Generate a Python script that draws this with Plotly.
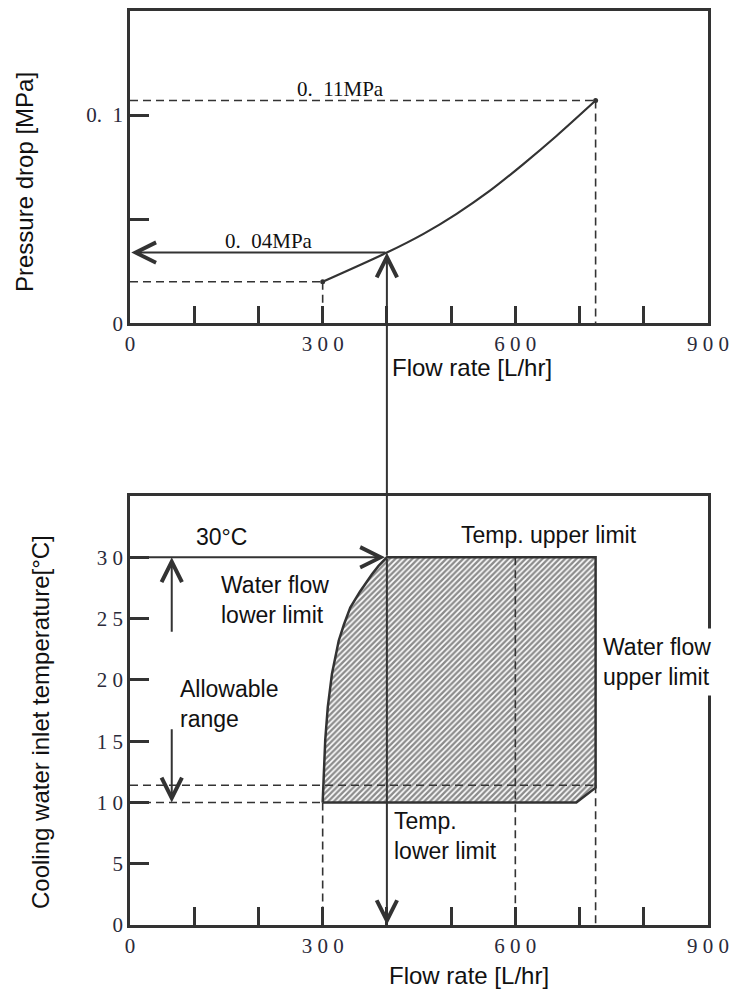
import plotly.graph_objects as go

# ---------------- data ----------------
# Pressure-drop curve (top chart)
flow_curve = [300, 400, 457, 508, 560, 612, 664, 725]
dp_curve = [0.020, 0.034, 0.043, 0.0525, 0.0636, 0.0764, 0.090, 0.107]

# Allowable operating region (bottom chart), outline
region_flow = [300, 301.5, 304, 308, 314.5, 325, 333, 343, 358, 376.5, 387, 400, 725, 725, 695, 300]
region_temp = [10, 12.4, 15.1, 17.8, 20.5, 23.2, 24.5, 25.9, 27.2, 28.6, 29.3, 30, 30, 11.2, 10, 10]

flow_min, flow_op, flow_mid, flow_max = 300, 400, 600, 725
dp_min, dp_op, dp_max = 0.020, 0.034, 0.107
t_low, t_low2, t_up = 10, 11.4, 30
allow_x = 65
gap_top, gap_bot = 23.8, 16.1

x_tickvals = [0, 100, 200, 300, 400, 500, 600, 700, 800, 900]
x_ticktext = ["0", "", "", "3 0 0", "", "", "6 0 0", "", "", "9 0 0"]
y1_tickvals = [0, 0.05, 0.1]
y1_ticktext = ["0", "", "0.  1"]
y2_tickvals = [0, 5, 10, 15, 20, 25, 30]
y2_ticktext = ["0", "5", "1 0", "1 5", "2 0", "2 5", "3 0"]

# ---------------- layout geometry ----------------
W, H = 733, 994
ML, MT = 130, 11
PW, PH = 578, 914
MR, MB = W - ML - PW, H - MT - PH
REF_TOP, REF_T1_BOT, REF_B_TOP, REF_BOT = 10, 323, 496, 925.7
d_top0 = (REF_BOT - REF_T1_BOT) / (REF_BOT - REF_TOP)
d_bot1 = (REF_BOT - REF_B_TOP) / (REF_BOT - REF_TOP)
Y1MAX, Y2MAX = 0.15, 35


def py_top(v):
    return MT + (1 - (d_top0 + (1 - d_top0) * v / Y1MAX)) * PH


def py_bot(v):
    return MT + (1 - d_bot1 * v / Y2MAX) * PH


def px2paper_x(px):
    return (px - ML) / PW


def px2paper_y(py):
    return 1 - (py - MT) / PH


LC = "#333333"
SANS = "Liberation Sans, Arial, sans-serif"
SERIF = "Liberation Serif, Times New Roman, serif"
DASH = "8px,5px"

fig = go.Figure()

# hatched region
fig.add_trace(go.Scatter(
    x=region_flow, y=region_temp, xaxis="x2", yaxis="y2",
    mode="lines", fill="toself", fillcolor="rgba(0,0,0,0)",
    fillpattern=dict(shape="/", size=4, solidity=0.6, fgcolor="#1a1a1a", bgcolor="white"),
    line=dict(color=LC, width=2.5), hoverinfo="skip"))

# top chart curve
fig.add_trace(go.Scatter(x=flow_curve, y=dp_curve, mode="lines",
                         line=dict(color=LC, width=2.2, shape="spline", smoothing=0.8),
                         xaxis="x", yaxis="y"))
fig.add_trace(go.Scatter(x=[flow_curve[0], flow_curve[-1]], y=[dp_curve[0], dp_curve[-1]],
                         mode="markers", marker=dict(color=LC, size=5), xaxis="x", yaxis="y"))


def dashed(xs, ys, xa, ya):
    fig.add_trace(go.Scatter(x=xs, y=ys, mode="lines", xaxis=xa, yaxis=ya,
                             line=dict(color=LC, width=1.6, dash=DASH), hoverinfo="skip"))


# dashed guide lines, top chart
dashed([0, flow_max], [dp_max, dp_max], "x", "y")
dashed([flow_max, flow_max], [dp_max, 0], "x", "y")
dashed([0, flow_min], [dp_min, dp_min], "x", "y")
dashed([flow_min, flow_min], [dp_min, 0], "x", "y")

# dashed guide lines, bottom chart
dashed([0, flow_min], [t_low, t_low], "x2", "y2")
dashed([0, flow_max], [t_low2, t_low2], "x2", "y2")
dashed([flow_min, flow_min], [t_low, 0], "x2", "y2")
dashed([flow_mid, flow_mid], [t_up, 0], "x2", "y2")
dashed([flow_max, flow_max], [t_low2, 0], "x2", "y2")

axis_common = dict(showline=True, mirror=True, linecolor=LC, linewidth=2.5, automargin=False,
                   ticks="inside", tickwidth=2.5, tickcolor=LC, showgrid=False, zeroline=False,
                   tickfont=dict(family=SERIF, size=21, color="#2a2a3a"))

fig.update_layout(
    width=W, height=H, margin=dict(l=ML, r=MR, t=MT, b=MB, autoexpand=False),
    paper_bgcolor="white", plot_bgcolor="white", showlegend=False,
    xaxis=dict(domain=[0, 1], range=[0, 900], anchor="y", tickmode="array",
               tickvals=x_tickvals, ticktext=x_ticktext, ticklen=18, **axis_common),
    yaxis=dict(domain=[d_top0, 1], range=[0, Y1MAX], anchor="x", tickmode="array",
               tickvals=y1_tickvals, ticktext=y1_ticktext, ticklen=19, **axis_common),
    xaxis2=dict(domain=[0, 1], range=[0, 900], anchor="y2", tickmode="array",
                tickvals=x_tickvals, ticktext=x_ticktext, ticklen=18, **axis_common),
    yaxis2=dict(domain=[0, d_bot1], range=[0, Y2MAX], anchor="x2", tickmode="array",
                tickvals=y2_tickvals, ticktext=y2_ticktext, ticklen=19, **axis_common),
)

ann = []


def arrow(x, y, ax, ay, xr, yr, pixel=False):
    d = dict(x=x, y=y, xref=xr, yref=yr, text="", showarrow=True,
             arrowhead=5, arrowsize=2, arrowwidth=2, arrowcolor=LC)
    if pixel:
        d.update(ax=ax, ay=ay)
    else:
        d.update(ax=ax, ay=ay, axref=xr, ayref=yr)
    ann.append(d)


# top chart: arrow to y axis (0.04 MPa)
arrow(2, dp_op, flow_op, dp_op, "x", "y")
# vertical arrow from 30 degC level up to curve (crosses gap between charts)
arrow(flow_op, dp_op, 0, py_bot(t_up) - py_top(dp_op), "x", "y", pixel=True)
# bottom: vertical arrow down to 0
arrow(flow_op, 0, flow_op, t_up, "x2", "y2")
# 30 degC arrow
arrow(flow_op - 3, t_up, 0, t_up, "x2", "y2")
# allowable range double arrow (two pieces around label)
arrow(allow_x, t_up, allow_x, gap_top, "x2", "y2")
arrow(allow_x, t_low, allow_x, gap_bot, "x2", "y2")


def label(text, x, y, xr, yr, size=23, family=SANS, xanchor="left", bg=None, align="left", pad=1):
    d = dict(x=x, y=y, xref=xr, yref=yr, text=text, showarrow=False, xanchor=xanchor,
             yanchor="middle", align=align, font=dict(family=family, size=size, color="#111111"),
             borderpad=pad)
    if bg:
        d["bgcolor"] = bg
    ann.append(d)


# top chart serif labels
label("0.  04MPa", 217, 0.0397, "x", "y", size=21, family=SERIF, xanchor="center")
label("0.  11MPa", 327, 0.1124, "x", "y", size=21, family=SERIF, xanchor="center")

# bottom chart labels
label("30°C", 99, 31.7, "x2", "y2")
label("Temp. upper limit", 652, 31.8, "x2", "y2", xanchor="center", align="center")
label("Water flow<br>lower limit", 138, 26.5, "x2", "y2")
label("Allowable<br>range", 75, 18.0, "x2", "y2")
label("Temp.<br>lower limit", 408, 7.3, "x2", "y2")
label("Water flow<br>upper limit", 727, 21.5, "x2", "y2", bg="white", pad=5)


def title(text, px, py, angle=0):
    ann.append(dict(x=px2paper_x(px), y=px2paper_y(py), xref="paper", yref="paper",
                    xanchor="center", yanchor="middle", textangle=angle,
                    text=text, showarrow=False, font=dict(family=SANS, size=24, color="#111111")))


title("Flow rate [L/hr]", 472, 367)
title("Flow rate [L/hr]", 469, 975)
title("Pressure drop [MPa]", 24, 182, -90)
title("Cooling water inlet temperature[°C]", 40, 722, -90)

fig.update_layout(annotations=ann)
fig.write_html("out.html", config={"displayModeBar": False},
               post_script="document.body.style.margin='0';document.body.style.overflow='hidden';")
